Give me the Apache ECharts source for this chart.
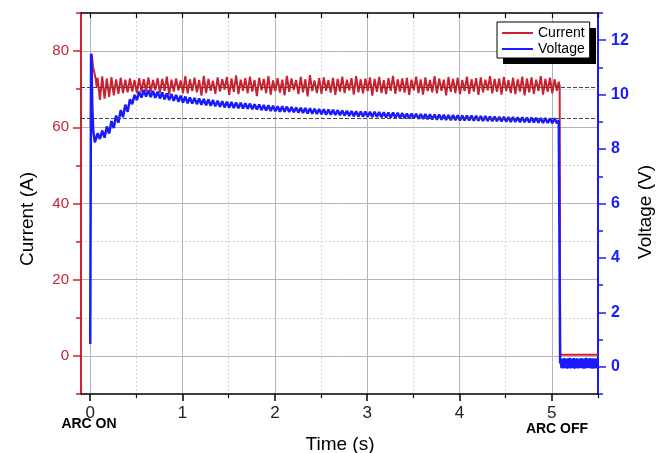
<!DOCTYPE html>
<html>
<head>
<meta charset="utf-8">
<script src="https://cdn.jsdelivr.net/npm/echarts@6/dist/echarts.min.js"></script>
<style>html,body{margin:0;padding:0;background:#fff}#c{width:657px;height:453px}</style>
</head>
<body>
<div id="c"></div>
<script>
// ---- tick values ----
const xMajor = [0, 1, 2, 3, 4, 5];
const xMinor = [0.5, 1.5, 2.5, 3.5, 4.5, 5.5];
const xAllTop = [0, 0.5, 1, 1.5, 2, 2.5, 3, 3.5, 4, 4.5, 5, 5.5];
const yLeftMajor = [0, 20, 40, 60, 80];
const yLeftMinor = [-10, 10, 30, 50, 70, 90];
const yRightMajor = [0, 2, 4, 6, 8, 10, 12];
const yRightMinor = [-1, 1, 3, 5, 7, 9, 11, 13];
const refCurrent = [70.6];
const refVoltage = [9.13];

// ---- series values ----
// arc start transient [time s, value]
const currentStart = [[0.006, 60], [0.012, 79.3], [0.02, 78.6], [0.03, 75.8], [0.045, 74.3], [0.06, 72.6], [0.07, 70.5]];
const voltageStart = [[0, 0.84], [0.004, 5.5], [0.009, 11.5], [0.014, 11.2], [0.022, 9.6], [0.032, 8.7], [0.05, 8.25], [0.065, 8.4]];
// steady ripple, sampled from 0.08 s every 0.025 s
const rippleT0 = 0.08;
const rippleStep = 0.025;
const currentRipple = [
  73.0,67.2,73.4,67.5,72.8,68.0,73.2,68.4,72.6,68.8,73.0,69.0,72.5,69.2,72.8,69.4,72.4,69.0,72.9,69.3,
  72.6,69.5,73.1,69.2,72.4,69.8,72.9,69.1,72.7,69.6,73.3,68.6,72.5,69.4,72.8,69.7,72.3,69.0,73.4,68.9,
  72.6,69.5,73.0,69.2,72.4,68.3,73.5,69.0,72.7,69.6,72.2,68.8,73.1,69.4,72.6,69.9,73.2,68.5,72.8,69.3,
  73.6,68.7,72.5,69.6,72.9,68.9,73.3,69.4,72.4,68.2,73.0,69.7,72.7,69.0,73.4,68.6,72.3,69.5,72.9,69.1,
  72.5,68.4,73.5,69.3,72.8,69.8,72.4,68.7,73.2,69.2,72.6,68.1,73.7,69.5,72.3,69.0,72.9,68.8,73.1,69.6,
  72.4,69.1,73.0,68.5,72.7,69.4,73.3,69.0,72.5,69.7,72.9,68.6,73.4,69.2,72.6,68.9,72.8,69.5,73.1,68.3,
  72.7,69.3,73.2,69.0,72.4,68.7,72.9,69.6,73.5,68.8,72.6,69.4,72.8,69.1,73.0,68.5,72.5,69.7,73.3,69.0,
  72.6,68.6,73.1,69.5,72.4,69.2,73.4,68.9,72.8,69.6,72.5,68.4,73.2,69.3,72.7,69.0,73.0,68.7,72.4,69.5,
  73.3,68.8,72.6,69.4,72.9,68.5,73.1,69.2,72.5,69.7,73.4,68.9,72.7,69.3,72.8,68.6,73.2,69.5,72.4,69.0,
  73.0,68.7,72.6,69.4,73.3,68.4,72.8,69.2,73.1,68.8,72.5,69.5,73.4,68.6,72.7,69.3,73.0,68.9,72.6,69.6
];
const voltageRipple = [
  8.58,8.37,8.68,8.42,8.83,8.57,9.03,8.77,9.23,8.97,9.43,9.17,9.63,9.37,9.83,9.65,9.99,9.80,10.11,9.89,
  10.17,9.93,10.16,9.91,10.14,9.88,10.11,9.86,10.08,9.83,10.05,9.80,10.02,9.77,9.99,9.74,9.96,9.71,9.93,9.68,
  9.90,9.67,9.88,9.65,9.86,9.63,9.84,9.61,9.82,9.59,9.80,9.57,9.78,9.55,9.76,9.53,9.74,9.52,9.73,9.51,
  9.71,9.50,9.70,9.49,9.68,9.48,9.67,9.46,9.65,9.45,9.64,9.43,9.62,9.42,9.61,9.40,9.59,9.39,9.57,9.37,
  9.57,9.37,9.56,9.36,9.55,9.35,9.53,9.34,9.52,9.33,9.51,9.31,9.50,9.30,9.48,9.29,9.47,9.28,9.46,9.26,
  9.45,9.26,9.44,9.25,9.43,9.24,9.42,9.23,9.41,9.22,9.40,9.21,9.39,9.20,9.38,9.19,9.38,9.19,9.37,9.18,
  9.37,9.18,9.36,9.17,9.35,9.16,9.34,9.15,9.34,9.15,9.33,9.14,9.32,9.13,9.31,9.12,9.31,9.12,9.30,9.11,
  9.29,9.11,9.29,9.10,9.28,9.09,9.27,9.08,9.27,9.08,9.26,9.07,9.25,9.06,9.25,9.06,9.24,9.05,9.23,9.05,
  9.23,9.05,9.23,9.04,9.22,9.04,9.21,9.03,9.21,9.03,9.20,9.02,9.20,9.02,9.19,9.01,9.19,9.01,9.18,9.00,
  9.18,9.00,9.17,8.99,9.17,8.99,9.16,8.98,9.16,8.98,9.15,8.97,9.14,8.96,9.14,8.96,9.13,8.95,9.13,8.95
];
// arc off
const currentEnd = [[5.075, 72.0], [5.085, 70.8], [5.09, 0.3], [5.5, 0.3]];
const voltageEnd = [[5.075, 9.05], [5.085, 9.0], [5.09, 0.12]];
const offT0 = 5.095;
const offStep = 0.01;
const voltageOff = [
  0.31,-0.05,0.29,-0.06,0.32,-0.04,0.30,-0.07,0.31,-0.05,
  0.33,-0.06,0.29,-0.04,0.32,-0.07,0.30,-0.05,0.31,-0.06,
  0.29,-0.04,0.32,-0.05,0.30,-0.07,0.31,-0.06,0.33,-0.04,
  0.29,-0.05,0.32,-0.06,0.30,-0.07,0.31,-0.05,0.30,-0.06,
  0.32
];

const currentData = currentStart
  .concat(currentRipple.map((v, i) => [rippleT0 + i * rippleStep, v]))
  .concat(currentEnd);
const voltageData = voltageStart
  .concat(voltageRipple.map((v, i) => [rippleT0 + i * rippleStep, v]))
  .concat(voltageEnd)
  .concat(voltageOff.map((v, i) => [offT0 + i * offStep, v]));

const RED = '#cc2230';
const BLUE = '#1a1aff';
const FONT = '"Liberation Sans", Arial, Helvetica, sans-serif';
const LINE_ICON = 'path://M0,0H31V2H0Z';

const chart = echarts.init(document.getElementById('c'), null, {renderer: 'canvas'});
chart.setOption({
  animation: false,
  backgroundColor: '#ffffff',
  textStyle: {fontFamily: FONT},
  grid: {left: 81, right: 59, top: 13, bottom: 59, containLabel: false},
  legend: {
    orient: 'vertical',
    left: 497, top: 22,
    padding: [4, 5, 2, 5],
    itemWidth: 31, itemHeight: 14, itemGap: 2,
    backgroundColor: '#ffffff',
    borderColor: '#000', borderWidth: 1,
    textStyle: {fontSize: 14, color: '#000', fontFamily: FONT},
    data: [{name: 'Current', icon: LINE_ICON}, {name: 'Voltage', icon: LINE_ICON}]
  },
  graphic: [
    {type: 'rect', z: 3, shape: {x: 503, y: 28, width: 93, height: 36}, style: {fill: '#000'}},
    {type: 'text', z: 10, x: 28, y: 219, rotation: Math.PI / 2,
      style: {text: 'Current (A)', fontSize: 19, fontFamily: FONT, fill: '#000', align: 'center', verticalAlign: 'middle'}},
    {type: 'text', z: 10, x: 646, y: 212, rotation: Math.PI / 2,
      style: {text: 'Voltage (V)', fontSize: 19, fontFamily: FONT, fill: '#000', align: 'center', verticalAlign: 'middle'}},
    {type: 'text', z: 10, x: 340, y: 445,
      style: {text: 'Time (s)', fontSize: 19, fontFamily: FONT, fill: '#000', align: 'center', verticalAlign: 'middle'}},
    {type: 'text', z: 10, x: 89, y: 424,
      style: {text: 'ARC ON', fontSize: 14, fontWeight: 'bold', fontFamily: FONT, fill: '#000', align: 'center', verticalAlign: 'middle'}},
    {type: 'text', z: 10, x: 557, y: 429,
      style: {text: 'ARC OFF', fontSize: 14, fontWeight: 'bold', fontFamily: FONT, fill: '#000', align: 'center', verticalAlign: 'middle'}}
  ],
  xAxis: [
    {type: 'value', min: -0.1, max: 5.5, position: 'bottom',
      axisLine: {show: true, onZero: false, lineStyle: {color: '#000', width: 1.5}},
      axisTick: {show: true, customValues: xMajor, length: 7, lineStyle: {color: '#000', width: 1.5}},
      axisLabel: {show: true, customValues: xMajor, fontSize: 17, color: '#222', margin: 11, fontFamily: FONT},
      splitLine: {show: true, lineStyle: {color: '#b4b4b4', width: 1}}},
    {type: 'value', min: -0.1, max: 5.5, position: 'bottom',
      axisLine: {show: false, onZero: false},
      axisTick: {show: true, customValues: xMinor, length: 4, lineStyle: {color: '#000', width: 1.2}},
      axisLabel: {show: false},
      splitLine: {show: true, lineStyle: {color: '#d4d4d4', width: 1, type: [2, 2]}}},
    {type: 'value', min: -0.1, max: 5.5, position: 'top',
      axisLine: {show: true, onZero: false, lineStyle: {color: '#000', width: 1.5}},
      axisTick: {show: true, inside: true, customValues: xAllTop, length: 5, lineStyle: {color: '#000', width: 1.2}},
      axisLabel: {show: false},
      splitLine: {show: false}}
  ],
  yAxis: [
    {type: 'value', min: -10, max: 90, position: 'left',
      axisLine: {show: true, onZero: false, lineStyle: {color: RED, width: 2}},
      axisTick: {show: true, customValues: yLeftMajor, length: 8, lineStyle: {color: RED, width: 1.5}},
      axisLabel: {show: true, customValues: yLeftMajor, fontSize: 15, color: RED, margin: 12, fontFamily: FONT},
      splitLine: {show: true, lineStyle: {color: '#b4b4b4', width: 1}}},
    {type: 'value', min: -10, max: 90, position: 'left',
      axisLine: {show: false, onZero: false},
      axisTick: {show: true, customValues: yLeftMinor, length: 5, lineStyle: {color: RED, width: 1.5}},
      axisLabel: {show: false},
      splitLine: {show: true, lineStyle: {color: '#d4d4d4', width: 1, type: [2, 2]}}},
    {type: 'value', min: -1, max: 13, position: 'right',
      axisLine: {show: true, onZero: false, lineStyle: {color: BLUE, width: 2}},
      axisTick: {show: true, customValues: yRightMajor, length: 8, lineStyle: {color: BLUE, width: 1.5}},
      axisLabel: {show: true, customValues: yRightMajor, fontSize: 16, fontWeight: 'bold', color: BLUE, margin: 13, fontFamily: FONT},
      splitLine: {show: false}},
    {type: 'value', min: -1, max: 13, position: 'right',
      axisLine: {show: false, onZero: false},
      axisTick: {show: true, customValues: yRightMinor, length: 5, lineStyle: {color: BLUE, width: 1.5}},
      axisLabel: {show: false},
      splitLine: {show: false}}
  ],
  series: [
    {name: 'Current', type: 'line', xAxisIndex: 0, yAxisIndex: 0, data: currentData,
      showSymbol: false, symbol: 'none', color: RED, lineStyle: {color: RED, width: 2}, z: 3,
      markLine: {silent: true, symbol: 'none', label: {show: false},
        lineStyle: {color: '#444', width: 1, type: [4, 2]},
        data: refCurrent.map(v => ({yAxis: v}))}},
    {name: 'Voltage', type: 'line', xAxisIndex: 0, yAxisIndex: 2, data: voltageData,
      showSymbol: false, symbol: 'none', color: BLUE, lineStyle: {color: BLUE, width: 2.5}, z: 4,
      markLine: {silent: true, symbol: 'none', label: {show: false},
        lineStyle: {color: '#444', width: 1, type: [4, 2]},
        data: refVoltage.map(v => ({yAxis: v}))}}
  ]
});
</script>
</body>
</html>
